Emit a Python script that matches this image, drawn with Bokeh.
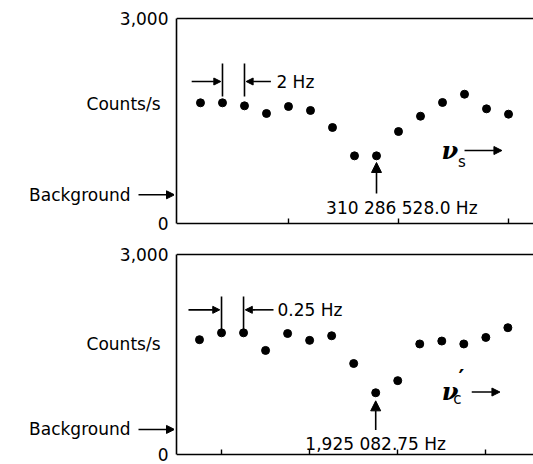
from bokeh.plotting import figure
from bokeh.layouts import column, row
from bokeh.models import (Range1d, LinearAxis, FixedTicker, Label, Arrow, NormalHead)
from bokeh.core.properties import value
from bokeh.embed import file_html
from bokeh.resources import INLINE

# ---- data ----
# top panel: scan of nu_s, x = last digits of 310 286 5xx.x Hz
top_freq = [512, 514, 516, 518, 520, 522, 524, 526, 528, 530, 532, 534, 536, 538, 540]
top_counts = [1766, 1766, 1722, 1610, 1712, 1654, 1405, 990, 990, 1346, 1570, 1771, 1892, 1678, 1600]
top_ticks = [520, 530, 540]
top_center = 528
top_center_label = "310 286 528.0 Hz"
top_step_label = "2 Hz"
top_background = 420
top_counts_label_y = 1756

# bottom panel: scan of nu_c', x = last digits of 1 925 0xx.xx Hz
bot_freq = [80.75, 81.0, 81.25, 81.5, 81.75, 82.0, 82.25, 82.5, 82.75, 83.0, 83.25, 83.5, 83.75, 84.0, 84.25]
bot_counts = [1722, 1825, 1825, 1561, 1815, 1712, 1781, 1365, 926, 1108, 1658, 1702, 1658, 1756, 1902]
bot_ticks = [81, 82, 83, 84]
bot_center = 82.75
bot_center_label = "1,925 082.75 Hz"
bot_step_label = "0.25 Hz"
bot_background = 376
bot_counts_label_y = 1658

y_min, y_max = 0, 3000
y_ticks = [0, 3000]
y_tick_labels = ["0", "3,000"]
y_label = "Counts/s"
bg_label = "Background"

FONT = "DejaVu Sans"
FS = "17px"
LEFT_W = 174   # width of the left label strip
PAD = 2        # left border of main panel


def head(size=8):
    return NormalHead(size=size, fill_color="black", line_color="black", line_width=1)


def bare_axis(ticks, **kw):
    ax = LinearAxis(ticker=FixedTicker(ticks=ticks), **kw)
    ax.major_tick_line_color = None
    ax.minor_tick_line_color = None
    ax.major_tick_in = 0
    ax.major_tick_out = 0
    ax.major_label_overrides = {t: "" for t in ticks}
    ax.major_label_text_font_size = "1px"
    ax.major_label_standoff = 0
    ax.axis_line_width = 1.6
    ax.axis_line_color = "black"
    return ax


def yrange(height, top_px, bottom_px):
    # data range of the full-height frame so that y_max sits at top_px, y_min at bottom_px
    per = (y_max - y_min) / (bottom_px - top_px)
    return Range1d(y_min - (height - bottom_px) * per, y_max + top_px * per)


def panel(freq, counts, ticks, xr, yr, height):
    p = figure(width=533 - LEFT_W, height=height, x_range=Range1d(*xr), y_range=yr,
               output_backend="svg", toolbar_location=None, tools="",
               min_border_left=PAD, min_border_right=0,
               min_border_top=0, min_border_bottom=0,
               x_axis_location=None, y_axis_location=None)
    p.outline_line_color = None
    p.xgrid.visible = False
    p.ygrid.visible = False

    p.add_layout(bare_axis([], bounds=(y_min, y_max)), "left")

    xax = bare_axis(ticks, fixed_location=y_min)
    xax.major_tick_line_color = "black"
    xax.major_tick_line_width = 1.4
    xax.major_tick_in = 5
    p.add_layout(xax, "below")

    p.add_layout(bare_axis([], fixed_location=y_max), "above")

    p.scatter(freq, counts, size=8, color="black")
    return p


def side(height, yr, counts_y, bg_y):
    # label strip left of the panel; shares the panel's y range
    s = figure(width=LEFT_W, height=height, x_range=Range1d(0, LEFT_W), y_range=yr,
               output_backend="svg", toolbar_location=None, tools="",
               min_border=0, x_axis_location=None, y_axis_location=None)
    s.outline_line_color = None
    s.xgrid.visible = False
    s.ygrid.visible = False
    s.text(x=[LEFT_W - 6] * 2, y=y_ticks, text=y_tick_labels, text_align="right",
           text_baseline="middle", text_font=value(FONT), text_font_size=FS, text_color="black")
    s.text(x=[160], y=[counts_y], text=[y_label], text_align="right", text_baseline="middle",
           text_font=value(FONT), text_font_size=FS, text_color="black")
    s.text(x=[130], y=[bg_y], text=[bg_label], text_align="right", text_baseline="middle",
           text_font=value(FONT), text_font_size=FS, text_color="black")
    s.add_layout(Arrow(x_start=138, y_start=bg_y, x_end=LEFT_W, y_end=bg_y, end=head(8),
                       line_color="black", line_width=1.6))
    return s


def label(p, x, y, text, align="left", size=FS, font=FONT, style="normal"):
    p.add_layout(Label(x=x, y=y, text=text, text_align=align, text_baseline="middle",
                       text_font=font, text_font_size=size, text_font_style=style,
                       text_color="black"))


def arrow(p, x0, y0, x1, y1, size=8):
    p.add_layout(Arrow(x_start=x0, y_start=y0, x_end=x1, y_end=y1, end=head(size),
                       line_color="black", line_width=1.6))


# ---------- top panel ----------
H1 = 240
yr1 = yrange(H1, 18, 223)
p1 = panel(top_freq, top_counts, top_ticks, (509.82, 542.27), yr1, H1)
s1 = side(H1, yr1, top_counts_label_y, top_background)
p1.segment(x0=[top_freq[1], top_freq[2]], y0=[1860, 1860], x1=[top_freq[1], top_freq[2]], y1=[2340, 2340],
           line_color="black", line_width=1.6)
arrow(p1, 511.2, 2078, top_freq[1] - 0.15, 2078, 7)
arrow(p1, 518.4, 2078, top_freq[2] + 0.15, 2078, 7)
label(p1, 518.9, 2078, top_step_label)
arrow(p1, top_center, 439, top_center, 893, 10)
label(p1, 530.3, 234, top_center_label, align="center")
label(p1, 533.9, 1068, "ν", size="24px", font="DejaVu Serif", style="bold italic")
label(p1, 535.4, 900, "s", size="15px")
arrow(p1, 536.0, 1068, 539.4, 1068, 8)

# ---------- bottom panel ----------
H2 = 224
yr2 = yrange(H2, 14, 214)
p2 = panel(bot_freq, bot_counts, bot_ticks, (80.489, 84.541), yr2, H2)
s2 = side(H2, yr2, bot_counts_label_y, bot_background)
p2.segment(x0=[bot_freq[1], bot_freq[2]], y0=[1858, 1858], x1=[bot_freq[1], bot_freq[2]], y1=[2371, 2371],
           line_color="black", line_width=1.6)
arrow(p2, 80.625, 2170, bot_freq[1] - 0.02, 2170, 7)
arrow(p2, 81.59, 2170, bot_freq[2] + 0.02, 2170, 7)
label(p2, 81.635, 2170, bot_step_label)
arrow(p2, bot_center, 366, bot_center, 805, 10)
label(p2, bot_center, 160, bot_center_label, align="center")
label(p2, 83.50, 951, "ν", size="24px", font="DejaVu Serif", style="bold italic")
label(p2, 83.63, 834, "c", size="15px")
label(p2, 83.69, 1150, "′", size="22px", style="bold")
arrow(p2, 83.84, 937, 84.16, 937, 8)

layout = column(row(s1, p1, spacing=0), row(s2, p2, spacing=0), spacing=0)
open("out.html", "w").write(file_html(layout, INLINE))
